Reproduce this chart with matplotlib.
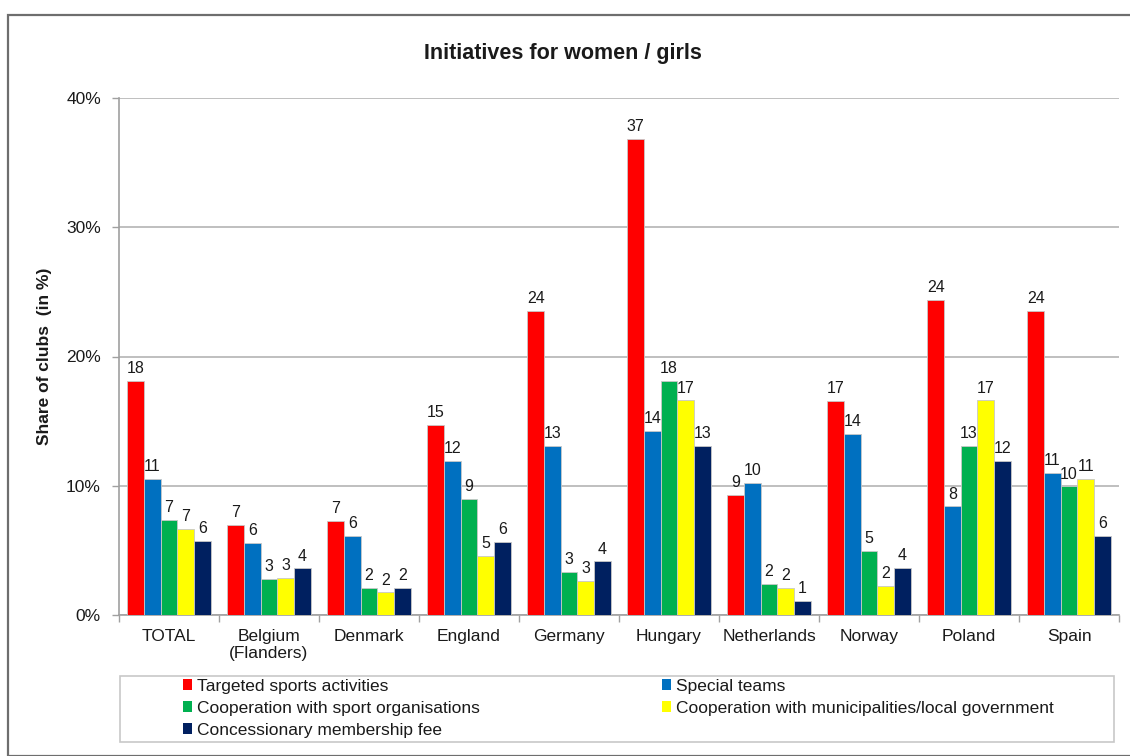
import matplotlib
matplotlib.use("Agg")
import matplotlib.pyplot as plt
from matplotlib.patches import Rectangle, Patch
from matplotlib.ticker import FixedLocator, FuncFormatter
import numpy as np

plt.rcParams['font.family'] = ['Liberation Sans', 'DejaVu Sans']

categories = ["TOTAL", "Belgium\n(Flanders)", "Denmark", "England", "Germany",
              "Hungary", "Netherlands", "Norway", "Poland", "Spain"]

series_names = ["Targeted sports activities",
                "Special teams",
                "Cooperation with sport organisations",
                "Cooperation with municipalities/local government",
                "Concessionary membership fee"]

targeted = [18.1, 7.0, 7.3, 14.7, 23.55, 36.8, 9.3, 16.55, 24.4, 23.55]
special_teams = [10.55, 5.6, 6.15, 11.9, 13.05, 14.25, 10.25, 14.0, 8.4, 11.0]
coop_sport = [7.35, 2.8, 2.1, 8.95, 3.35, 18.1, 2.4, 4.95, 13.05, 9.95]
coop_municipal = [6.65, 2.85, 1.75, 4.55, 2.65, 16.6, 2.1, 2.25, 16.6, 10.55]
concessionary = [5.7, 3.6, 2.1, 5.65, 4.15, 13.05, 1.1, 3.65, 11.9, 6.1]

colors = ["#FF0000", "#0070C0", "#00B050", "#FFFF00", "#002060"]

all_series = [targeted, special_teams, coop_sport, coop_municipal, concessionary]

W, H = 1130, 756
fig = plt.figure(figsize=(W / 100, H / 100), dpi=100)
fig.patch.set_facecolor("white")

# outer chart frame
fig.patches.append(Rectangle((8 / W, 0), 1.2, (H - 15) / H, transform=fig.transFigure,
                             fill=False, edgecolor="#6e6e6e", linewidth=1.6, zorder=0))

ax = fig.add_axes([119 / W, (H - 615) / H, 1000 / W, 517 / H])

n_groups = len(categories)
bw = 1 / 6
x0 = np.arange(n_groups) + bw / 2

for j, (vals, col, name) in enumerate(zip(all_series, colors, series_names)):
    xs = x0 + (j + 0.5) * bw
    bars = ax.bar(xs, vals, width=bw, color=col, edgecolor="#c8c8c8",
                  linewidth=0.6, label=name, zorder=3)
    for b, v in zip(bars, vals):
        ax.annotate(f"{round(v):d}", (b.get_x() + b.get_width() / 2, v),
                    xytext=(0, 3.5), textcoords="offset points",
                    ha="center", va="bottom", fontsize=11.5, color="#1a1a1a")

ax.set_xlim(0, n_groups)
ax.set_ylim(0, 40)

ax.yaxis.set_major_locator(FixedLocator([0, 10, 20, 30, 40]))
ax.yaxis.set_major_formatter(FuncFormatter(lambda v, p: f"{v:.0f}%"))
ax.grid(axis="y", color="#b4b4b4", linewidth=1.2, zorder=0)
ax.set_axisbelow(True)

ax.set_xticks(np.arange(n_groups + 1))
ax.set_xticklabels([])
ax.set_xticks(np.arange(n_groups) + 0.5, minor=True)
ax.set_xticklabels(categories, minor=True, fontsize=12.5, color="#1a1a1a")
ax.tick_params(axis="x", which="minor", length=0, pad=10)
ax.tick_params(axis="x", which="major", length=5, color="#a0a0a0", width=1)
ax.tick_params(axis="y", length=5, color="#a0a0a0", width=1, labelsize=12.5,
               labelcolor="#1a1a1a", pad=8)

for side in ["top", "right"]:
    ax.spines[side].set_visible(False)
for side in ["left", "bottom"]:
    ax.spines[side].set_color("#a0a0a0")
    ax.spines[side].set_linewidth(1.2)

ax.set_ylabel("Share of clubs  (in %)", fontsize=12.5, fontweight="bold",
              color="#1a1a1a", labelpad=10)

fig.text(563 / W, 1 - 54 / H, "Initiatives for women / girls", ha="center",
         va="center", fontsize=15.5, fontweight="bold", color="#1a1a1a")

# legend frame
lx0, ly0, lx1, ly1 = 120, 676, 1114, 742
fig.patches.append(Rectangle((lx0 / W, 1 - ly1 / H), (lx1 - lx0) / W, (ly1 - ly0) / H,
                             transform=fig.transFigure, fill=False,
                             edgecolor="#c8c8c8", linewidth=1.2))

handles = [Patch(facecolor=c, edgecolor="none") for c in colors]
leg_kw = dict(frameon=False, fontsize=12.5, handlelength=0.5, handleheight=0.6,
              handletextpad=0.3, labelspacing=0.4, borderpad=0, borderaxespad=0,
              loc="upper left")
leg1 = fig.legend([handles[0], handles[2], handles[4]],
                  [series_names[0], series_names[2], series_names[4]],
                  bbox_to_anchor=(183 / W, 1 - 679 / H), **leg_kw)
leg2 = fig.legend([handles[1], handles[3]],
                  [series_names[1], series_names[3]],
                  bbox_to_anchor=(662 / W, 1 - 679 / H), **leg_kw)
for leg in (leg1, leg2):
    for t in leg.get_texts():
        t.set_color("#1a1a1a")

fig.savefig("out.png", dpi=100, facecolor="white")
